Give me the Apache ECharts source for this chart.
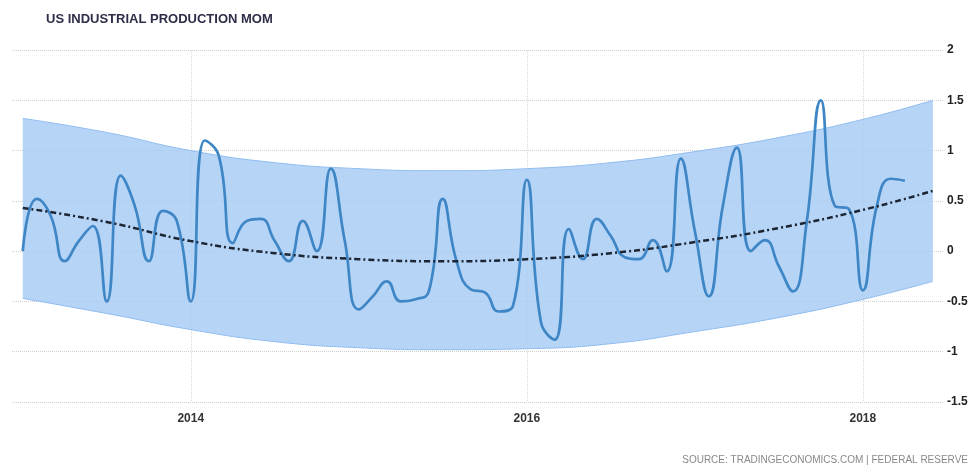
<!DOCTYPE html>
<html>
<head>
    <meta charset="utf-8">
    <title>US Industrial Production MoM</title>
    <script src="https://cdn.jsdelivr.net/npm/echarts@6/dist/echarts.min.js"></script>
</head>
<body style="margin:0;">
    <div id="main" style="width: 978px;height:470px;"></div>

    <script type="text/javascript">
        // monthly readings from Jan 2013 to Apr 2018
        var startYear = 2013
        var production = [
            0, 0.52, 0.35, -0.1, 0.1, 0.25, -0.5, 0.75, 0.45, -0.1, 0.4, 0.3,
            -0.5, 1.1, 0.95, 0.08, 0.3, 0.32, 0.1, -0.1, 0.3, 0, 0.82, 0.1,
            -0.58, -0.45, -0.3, -0.5, -0.48, -0.4, 0.52, -0.11, -0.38, -0.41, -0.6, -0.55,
            0.71, -0.7, -0.88, 0.22, -0.08, 0.32, 0.15, -0.06, -0.08, 0.11, -0.2, 0.92,
            0.2, -0.45, 0.45, 1.03, 0, 0.11, -0.15, -0.4, 0.3, 1.5, 0.45, 0.42,
            -0.39, 0.45, 0.72, 0.7
        ]

        // trend line and its band, read every half year (last point Jun 2018)
        var bandX = [2013, 2013.5, 2014, 2014.5, 2015, 2015.5, 2016, 2016.5, 2017, 2017.5, 2018, 2018.417]
        var trend = [0.43, 0.29, 0.1, -0.02, -0.08, -0.1, -0.08, -0.02, 0.09, 0.23, 0.41, 0.6]
        var bandUpper = [1.32, 1.18, 1.0, 0.88, 0.82, 0.8, 0.82, 0.88, 0.99, 1.13, 1.31, 1.5]
        var bandLower = [-0.47, -0.62, -0.78, -0.9, -0.96, -0.98, -0.97, -0.92, -0.8, -0.66, -0.48, -0.3]

        var yearTicks = [2014, 2016, 2018]

        var pairs = function(xs, ys) {
            return ys.map(function(v, i) { return [xs[i], v] })
        }
        // value first so that the stack goes on y (stacked by index)
        var flipped = function(xs, ys) {
            return ys.map(function(v, i) { return [v, xs[i]] })
        }

        var monthX = production.map(function(v, i) { return startYear + i / 12 })
        var bandWidth = bandUpper.map(function(v, i) { return v - bandLower[i] })

        var myChart = echarts.init(document.getElementById('main'))

        var option = {
            animation: false,
            title: {
                text: 'US INDUSTRIAL PRODUCTION MOM',
                left: 41,
                top: 8,
                textStyle: {
                    fontFamily: 'Liberation Sans',
                    fontSize: 13,
                    fontWeight: 'bold',
                    color: '#2d2d48'
                }
            },
            graphic: [{
                type: 'text',
                right: 10,
                bottom: 5,
                style: {
                    text: 'SOURCE: TRADINGECONOMICS.COM | FEDERAL RESERVE',
                    font: '10px "Liberation Sans"',
                    fill: '#888'
                }
            }],
            grid: {
                left: 12,
                right: 34,
                top: 50,
                bottom: 68
            },
            xAxis: {
                type: 'value',
                min: 2012.936,
                max: 2018.483,
                axisLine: { show: false },
                axisTick: {
                    show: true,
                    length: 6,
                    customValues: yearTicks,
                    lineStyle: { color: '#d8d8d8', type: 'dotted' }
                },
                axisLabel: {
                    customValues: yearTicks,
                    margin: 11,
                    fontFamily: 'Liberation Sans',
                    fontSize: 12,
                    fontWeight: 'bold',
                    color: '#333',
                    formatter: function(v) { return String(v) }
                },
                splitLine: {
                    show: true,
                    lineStyle: { color: '#d8d8d8', type: 'dotted' }
                }
            },
            yAxis: {
                type: 'value',
                position: 'right',
                min: -1.5,
                max: 2,
                interval: 0.5,
                axisLine: { show: false },
                axisTick: { show: false },
                axisLabel: {
                    margin: 3,
                    fontFamily: 'Liberation Sans',
                    fontSize: 12,
                    fontWeight: 'bold',
                    color: '#222'
                },
                splitLine: {
                    lineStyle: { color: '#d0d0d0', type: 'dotted' }
                }
            },
            series: [
                {
                    name: 'lower',
                    type: 'line',
                    stack: 'band',
                    stackStrategy: 'all',
                    smooth: true,
                    symbol: 'none',
                    encode: { x: 1, y: 0 },
                    lineStyle: { color: '#8fbcf0', width: 1 },
                    data: flipped(bandX, bandLower)
                },
                {
                    name: 'band',
                    type: 'line',
                    stack: 'band',
                    stackStrategy: 'all',
                    smooth: true,
                    symbol: 'none',
                    encode: { x: 1, y: 0 },
                    lineStyle: { color: '#8fbcf0', width: 1 },
                    areaStyle: { color: '#a9ccf5', opacity: 0.85 },
                    data: flipped(bandX, bandWidth)
                },
                {
                    name: 'Industrial Production MoM',
                    type: 'line',
                    smooth: 0.5,
                    symbol: 'none',
                    lineStyle: { color: '#3f86c6', width: 2.7 },
                    data: pairs(monthX, production)
                },
                {
                    name: 'trend',
                    type: 'line',
                    smooth: true,
                    symbol: 'none',
                    lineStyle: { color: '#1b2533', width: 2.5, type: [6, 3, 2, 3] },
                    data: pairs(bandX, trend)
                }
            ]
        }

        myChart.setOption(option)
    </script>
</body>
</html>
